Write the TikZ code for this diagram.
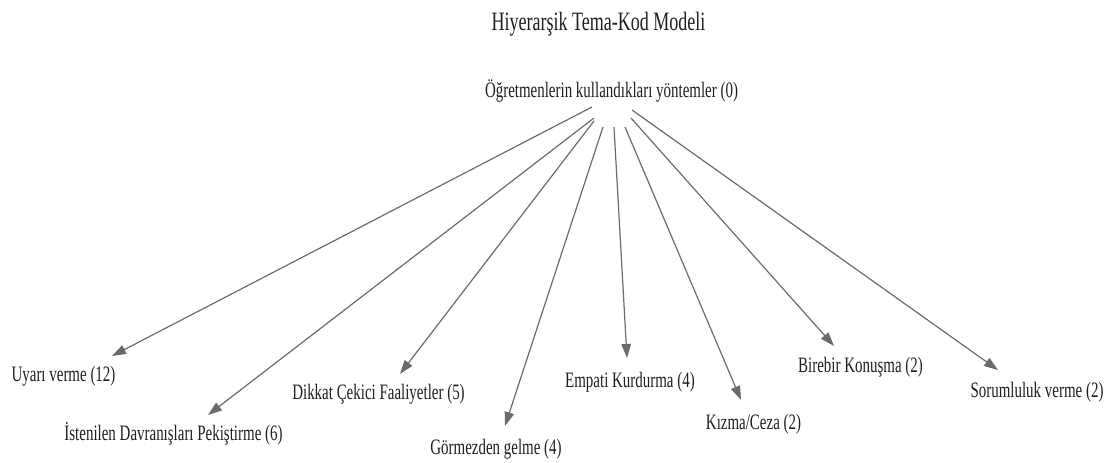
\documentclass[tikz,border=0pt]{standalone}
\usepackage{fontspec}
\usetikzlibrary{arrows.meta,calc}
\newfontfamily\narrowserif[FakeStretch=0.68]{Liberation Serif}
\begin{document}
\begin{tikzpicture}[x=1pt,y=1pt,
  lbl/.style={anchor=base,inner sep=0pt,text=black!88,
    font=\narrowserif\fontsize{22}{22}\selectfont},
  ttl/.style={anchor=base,inner sep=0pt,text=black!88,
    font=\narrowserif\fontsize{26.5}{26.5}\selectfont},
  arr/.style={draw=black!58,line width=1.2pt,
    -{Triangle[length=14pt,width=9.5pt]}}]
\useasboundingbox (0,0) rectangle (1109,463);

% title and root theme
\node[ttl] (title) at (598.5,432) {Hiyerarşik Tema-Kod Modeli};
\node[lbl] (root) at (611.5,365.3) {Öğretmenlerin kullandıkları yöntemler (0)};

% codes
\node[lbl] (uyari)  at (63.5,81.3)   {Uyarı verme (12)};
\node[lbl] (pekis)  at (173.5,22.3)  {İstenilen Davranışları Pekiştirme (6)};
\node[lbl] (dikkat) at (378.5,63)    {Dikkat Çekici Faaliyetler (5)};
\node[lbl] (gorme)  at (496,8)       {Görmezden gelme (4)};
\node[lbl] (empati) at (630,75)      {Empati Kurdurma (4)};
\node[lbl] (kizma)  at (753.5,33)    {Kızma/Ceza (2)};
\node[lbl] (birebir) at (860.5,90)   {Birebir Konuşma (2)};
\node[lbl] (sorum)  at (1037,65)     {Sorumluluk verme (2)};

% links from the theme to each code
\draw[arr] ($(root.base)+(-19.5,-9.3)$)  -- ($(uyari.base)+(48.5,25.7)$);
\draw[arr] ($(root.base)+(-17.5,-20.3)$) -- ($(pekis.base)+(34.5,25.7)$);
\draw[arr] ($(root.base)+(-17.5,-23.3)$) -- ($(dikkat.base)+(21.5,26)$);
\draw[arr] ($(root.base)+(-8.5,-29.3)$)  -- ($(gorme.base)+(9,29)$);
\draw[arr] ($(root.base)+(2.5,-29.3)$)   -- ($(empati.base)+(-3,30)$);
\draw[arr] ($(root.base)+(13.5,-29.3)$)  -- ($(kizma.base)+(-12.5,30)$);
\draw[arr] ($(root.base)+(19.5,-20.3)$)  -- ($(birebir.base)+(-26.5,27)$);
\draw[arr] ($(root.base)+(20.5,-12.3)$)  -- ($(sorum.base)+(-39,28)$);
\end{tikzpicture}
\end{document}
